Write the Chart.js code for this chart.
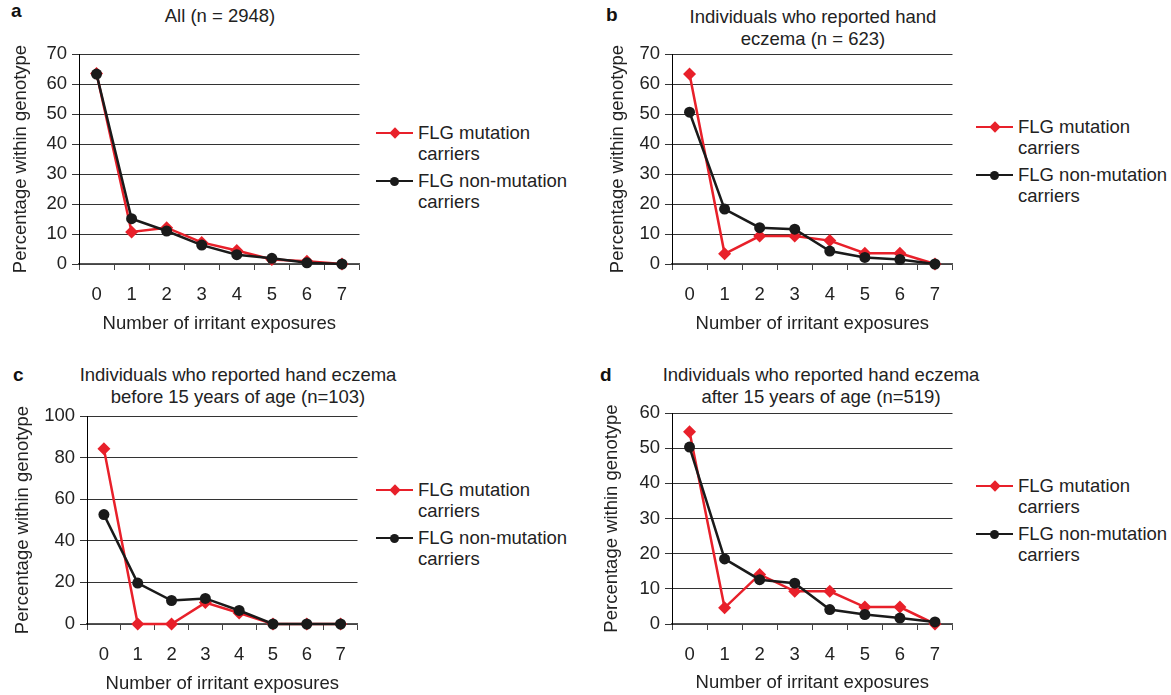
<!DOCTYPE html>
<html>
<head>
<meta charset="utf-8">
<script src="https://cdn.jsdelivr.net/npm/chart.js@4.4.1/dist/chart.umd.min.js"></script>
<style>
  html, body { margin: 0; padding: 0; background: #fff; }
  body { width: 1171px; height: 695px; position: relative; overflow: hidden;
         font-family: "Liberation Sans", Arial, Helvetica, sans-serif; color: #222; }
  .wrap { position: absolute; }
  .txt { position: absolute; font-size: 18.5px; line-height: 22px; white-space: nowrap; color: #222; }
  .ttl { position: absolute; font-size: 18.5px; line-height: 22px; white-space: nowrap; color: #222;
         transform: translateX(-50%); text-align: center; }
  .letter { position: absolute; font-size: 19px; font-weight: bold; color: #111; }
  .lg-line { position: absolute; width: 37px; height: 2.5px; }
  .lg-dia { position: absolute; width: 8px; height: 8px; transform: rotate(45deg); }
  .lg-dot { position: absolute; width: 9px; height: 9px; border-radius: 50%; }
</style>
</head>
<body>
<script>
// ---- data ----
const categories = ['0', '1', '2', '3', '4', '5', '6', '7'];
const seriesNames = ['FLG mutation carriers', 'FLG non-mutation carriers'];
const xAxisTitle = 'Number of irritant exposures';
const yAxisTitle = 'Percentage within genotype';

const titleA = ['All (n = 2948)'];
const titleB = ['Individuals who reported hand', 'eczema (n = 623)'];
const titleC = ['Individuals who reported hand eczema', 'before 15 years of age (n=103)'];
const titleD = ['Individuals who reported hand eczema', 'after 15 years of age (n=519)'];

const aMutation    = [63.5, 10.7, 12.1, 7.2, 4.5, 1.5, 0.9, 0];
const aNonMutation = [63.3, 15.1, 11.0, 6.3, 3.1, 1.9, 0.4, 0];
const bMutation    = [63.3, 3.4, 9.3, 9.3, 7.8, 3.6, 3.6, 0];
const bNonMutation = [50.6, 18.3, 12.1, 11.6, 4.3, 2.2, 1.5, 0];
const cMutation    = [84.2, 0, 0, 10.3, 5.3, 0, 0, 0];
const cNonMutation = [52.6, 19.7, 11.3, 12.3, 6.5, 0, 0, 0];
const dMutation    = [54.7, 4.6, 14.1, 9.3, 9.3, 4.8, 4.8, 0];
const dNonMutation = [50.3, 18.5, 12.6, 11.6, 4.1, 2.7, 1.7, 0.6];

const yMaxA = 70, yStepA = 10;
const yMaxB = 70, yStepB = 10;
const yMaxC = 100, yStepC = 20;
const yMaxD = 60, yStepD = 10;

// ---- styling / layout ----
const RED = '#e8202a';
const BLACK = '#1a1a1a';
const FONT = { family: '"Liberation Sans", Arial, Helvetica, sans-serif', size: 18.5 };

const panels = [
  { id: 'a', title: titleA, mut: aMutation, non: aNonMutation, max: yMaxA, step: yStepA,
    box: { left: 10, top: 1, width: 356, height: 334 }, yWidth: 69, padTop: 53, xHeight: 71,
    titleX: 220, titleY: 5, letter: { x: 11, y: 0 }, legend: { x: 376, y: 133 } },
  { id: 'b', title: titleB, mut: bMutation, non: bNonMutation, max: yMaxB, step: yStepB,
    box: { left: 607, top: 1, width: 352, height: 334 }, yWidth: 65, padTop: 53, xHeight: 71,
    titleX: 813, titleY: 6, letter: { x: 606, y: 4 }, legend: { x: 976, y: 127 } },
  { id: 'c', title: titleC, mut: cMutation, non: cNonMutation, max: yMaxC, step: yStepC,
    box: { left: 12, top: 361, width: 352, height: 334 }, yWidth: 75, padTop: 55, xHeight: 71,
    titleX: 238, titleY: 364, letter: { x: 13, y: 364 }, legend: { x: 376, y: 490 } },
  { id: 'd', title: titleD, mut: dMutation, non: dNonMutation, max: yMaxD, step: yStepD,
    box: { left: 601, top: 361, width: 358, height: 333 }, yWidth: 71, padTop: 52, xHeight: 70,
    titleX: 821, titleY: 364, letter: { x: 600, y: 364 }, legend: { x: 976, y: 486 } }
];

function el(tag, cls, style, text) {
  const e = document.createElement(tag);
  if (cls) e.className = cls;
  Object.assign(e.style, style || {});
  if (text !== undefined) e.textContent = text;
  document.body.appendChild(e);
  return e;
}

function addLegend(x, y) {
  el('div', 'lg-line', { left: x + 'px', top: (y - 1.25) + 'px', background: RED });
  el('div', 'lg-dia', { left: (x + 18.5 - 4) + 'px', top: (y - 4) + 'px', background: RED });
  el('div', 'txt', { left: (x + 42) + 'px', top: (y - 11) + 'px' }, 'FLG mutation');
  el('div', 'txt', { left: (x + 42) + 'px', top: (y + 10) + 'px' }, 'carriers');
  const y2 = y + 48;
  el('div', 'lg-line', { left: x + 'px', top: (y2 - 1.25) + 'px', background: BLACK });
  el('div', 'lg-dot', { left: (x + 18.5 - 4.5) + 'px', top: (y2 - 4.5) + 'px', background: BLACK });
  el('div', 'txt', { left: (x + 42) + 'px', top: (y2 - 11) + 'px' }, 'FLG non-mutation');
  el('div', 'txt', { left: (x + 42) + 'px', top: (y2 + 10) + 'px' }, 'carriers');
}

panels.forEach(p => {
  el('div', 'letter', { left: p.letter.x + 'px', top: p.letter.y + 'px' }, p.id);
  p.title.forEach((line, i) => {
    el('div', 'ttl', { left: p.titleX + 'px', top: (p.titleY + i * 22) + 'px' }, line);
  });
  addLegend(p.legend.x, p.legend.y);

  const wrap = el('div', 'wrap', {
    left: p.box.left + 'px', top: p.box.top + 'px',
    width: p.box.width + 'px', height: p.box.height + 'px'
  });
  const canvas = document.createElement('canvas');
  wrap.appendChild(canvas);

  new Chart(canvas, {
    type: 'line',
    data: {
      labels: categories,
      datasets: [
        { label: seriesNames[1], data: p.non, borderColor: BLACK, backgroundColor: BLACK,
          borderWidth: 2.5, pointStyle: 'circle', pointRadius: 5.5, pointHoverRadius: 5.5,
          pointBorderWidth: 0, tension: 0, clip: false, order: 0 },
        { label: seriesNames[0], data: p.mut, borderColor: RED, backgroundColor: RED,
          borderWidth: 2.5, pointStyle: 'rectRot', pointRadius: 6.5, pointHoverRadius: 6.5,
          pointBorderWidth: 0, tension: 0, clip: false, order: 1 }
      ]
    },
    options: {
      responsive: true,
      maintainAspectRatio: false,
      animation: false,
      devicePixelRatio: 1,
      layout: { padding: { top: p.padTop, right: 1, bottom: 0, left: 0 } },
      plugins: { legend: { display: false }, title: { display: false }, tooltip: { enabled: false } },
      scales: {
        x: {
          type: 'category',
          offset: true,
          grid: { display: true, drawOnChartArea: false, drawTicks: true, tickLength: 6,
                  offset: true, color: '#444', lineWidth: 1 },
          border: { display: true, color: '#555', width: 1.5 },
          ticks: { color: '#222', font: FONT, padding: 14, maxRotation: 0, autoSkip: false },
          title: { display: true, text: xAxisTitle, color: '#222', font: FONT,
                   padding: { top: 0, bottom: 0 } },
          afterFit: (s) => { s.height = p.xHeight; s.paddingLeft = 0; s.paddingRight = 0; }
        },
        y: {
          min: 0, max: p.max,
          ticks: { stepSize: p.step, color: '#222', font: FONT, padding: 5 },
          grid: { color: '#333', lineWidth: 1, drawTicks: true, tickLength: 7 },
          border: { display: true, color: '#000', width: 1 },
          title: { display: true, text: yAxisTitle, color: '#222', font: FONT,
                   padding: { top: 0, bottom: 0 } },
          afterFit: (s) => { s.width = p.yWidth; }
        }
      }
    }
  });
});
</script>
</body>
</html>
